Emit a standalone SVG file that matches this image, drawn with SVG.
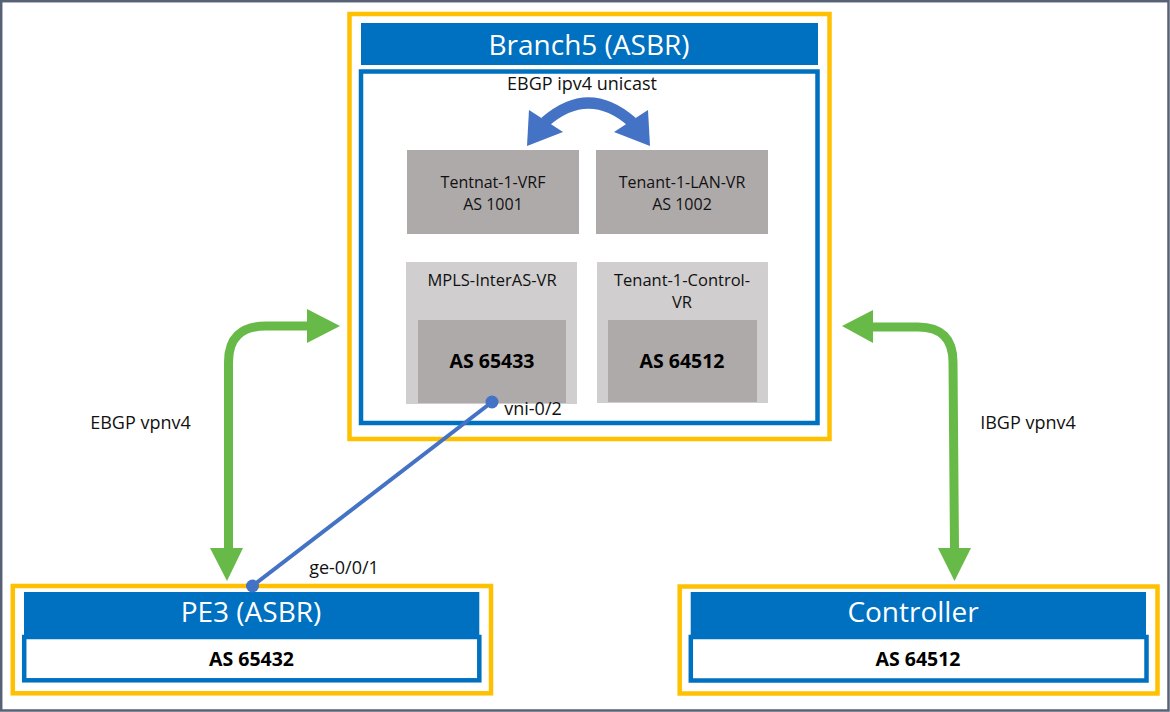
<svg xmlns="http://www.w3.org/2000/svg" width="1170" height="712" viewBox="0 0 1170 712">
<style>
.frame{fill:#fff;stroke:#576276;stroke-width:2.5}
.ybox{fill:none;stroke:#FFC000;stroke-width:4.5}
.bbar{fill:#0070C0}
.bbox{fill:#fff;stroke:#0070C0;stroke-width:4.5}
.inner{fill:none;stroke:#0070C0;stroke-width:4.5}
.dg{fill:#AEAAAA}
.lg{fill:#D0CECE}
text{font-family:"Open Sans","Liberation Sans",sans-serif;fill:#111;text-anchor:middle}
.title{font-size:28px;fill:#fff}
.lbl{font-size:18px}
.vr{font-size:16px}
.vr2{font-size:16.5px}
.as{font-size:19.5px;font-weight:bold;fill:#000}
.green{fill:none;stroke:#67BA47;stroke-width:9}
.gh{fill:#67BA47}
.blue{fill:none;stroke:#4472C4}
.bh{fill:#4472C4}
</style>
<rect class="frame" x="1.2" y="1.2" width="1167.3" height="709.3"/>

<g id="branch5">
  <rect class="ybox" x="349.5" y="14" width="480" height="425"/>
  <rect class="bbar" x="361" y="23" width="457" height="42"/>
  <text class="title" x="589" y="55">Branch5 (ASBR)</text>
  <rect class="inner" x="361" y="71.5" width="456.5" height="351.5"/>
  <text class="lbl" x="582" y="90">EBGP ipv4 unicast</text>
</g>

<g id="tenant-vrf">
  <rect class="dg" x="407" y="150" width="172" height="84"/>
  <text class="vr" x="493" y="188">Tentnat-1-VRF</text>
  <text class="vr" x="493" y="210">AS 1001</text>
</g>

<g id="tenant-lan-vr">
  <rect class="dg" x="596" y="150" width="172" height="84"/>
  <text class="vr" x="682" y="188">Tenant-1-LAN-VR</text>
  <text class="vr" x="682" y="210">AS 1002</text>
</g>

<g id="mpls-interas-vr">
  <rect class="lg" x="406" y="262" width="171" height="142"/>
  <text class="vr2" x="492" y="286">MPLS-InterAS-VR</text>
  <rect class="dg" x="418" y="320" width="148" height="83"/>
  <text class="as" x="492" y="368">AS 65433</text>
</g>

<g id="tenant-control-vr">
  <rect class="lg" x="597" y="262" width="171" height="141"/>
  <text class="vr2" x="682" y="286">Tenant-1-Control-</text>
  <text class="vr2" x="682" y="308">VR</text>
  <rect class="dg" x="608" y="320" width="149" height="82"/>
  <text class="as" x="682" y="368">AS 64512</text>
</g>

<g id="pe3">
  <rect class="ybox" x="12.8" y="586" width="478.2" height="107.3"/>
  <rect class="bbar" x="24" y="592" width="455.3" height="46"/>
  <rect class="bbox" x="24.2" y="637" width="455.1" height="43.3"/>
  <text class="title" x="251" y="622">PE3 (ASBR)</text>
  <text class="as" x="251.5" y="666">AS 65432</text>
</g>

<g id="controller">
  <rect class="ybox" x="679.7" y="586.5" width="477.8" height="107"/>
  <rect class="bbar" x="690.7" y="592" width="455.3" height="46"/>
  <rect class="bbox" x="690.8" y="637" width="455.7" height="43.5"/>
  <text class="title" x="913" y="622">Controller</text>
  <text class="as" x="918" y="666">AS 64512</text>
</g>

<g id="connectors">
  <path class="blue" stroke-width="11" d="M 545 122 Q 588.5 84 632 122"/>
  <polygon class="bh" points="529,110 563,132 527,146"/>
  <polygon class="bh" points="648,110 614,132 650,146"/>

  <path class="green" d="M 228.5 550 L 228.5 362 Q 228.5 326 266 326 L 309 326"/>
  <polygon class="gh" points="307,309 340,326 307,343"/>
  <polygon class="gh" points="210,548 243,548 227,581"/>

  <path class="green" d="M 954.5 550 L 953 362 Q 953 327 918 327 L 871 327"/>
  <polygon class="gh" points="873,310 842,326 873,343"/>
  <polygon class="gh" points="938,548 971,548 954.5,581"/>

  <line class="blue" stroke-width="4" x1="492" y1="402" x2="252.5" y2="586"/>
  <circle class="bh" cx="492" cy="402" r="6.5"/>
  <circle class="bh" cx="252.5" cy="586" r="6.5"/>

  <text class="lbl" x="533" y="415">vni-0/2</text>
  <text class="lbl" x="344" y="574">ge-0/0/1</text>
  <text class="lbl" x="140.5" y="429">EBGP vpnv4</text>
  <text class="lbl" x="1028" y="429">IBGP vpnv4</text>
</g>
</svg>
